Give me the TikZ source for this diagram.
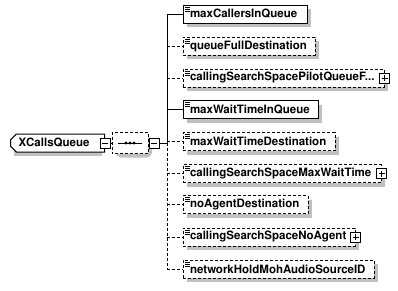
\documentclass[tikz,border=0pt]{standalone}
\usepackage[T1]{fontenc}
\usepackage{helvet}
\usetikzlibrary{shapes.misc}

\definecolor{shadowgray}{RGB}{192,192,192}

\begin{document}
\begin{tikzpicture}[
    x=1pt, y=-1pt,
    line width=1pt,
    font=\fontsize{11.5}{13}\selectfont\sffamily\bfseries,
    opt/.style={dash pattern=on 3pt off 2pt},
    elem/.style={
      rectangle,
      draw=black,
      fill=white,
      anchor=west,
      align=left,
      inner xsep=7pt,
      inner ysep=0pt,
      minimum height=18pt,
      text width=#1
    },
    root/.style={
      chamfered rectangle,
      chamfered rectangle corners={north west,south west},
      chamfered rectangle xsep=3pt,
      draw=black,
      fill=white,
      anchor=west,
      align=left,
      inner xsep=5pt,
      inner ysep=0pt,
      minimum height=18pt,
      text width=78pt
    },
    compositor/.style={
      chamfered rectangle,
      chamfered rectangle xsep=5pt,
      draw=black,
      fill=white,
      opt,
      inner sep=0pt,
      minimum width=36pt,
      minimum height=21pt
    },
    button/.style={
      rectangle,
      draw=black,
      fill=white,
      minimum size=10pt,
      inner sep=0pt
    },
    minus/.style={
      button,
      path picture={
        \draw ([xshift=2pt]path picture bounding box.west) -- ([xshift=-2pt]path picture bounding box.east);
      }
    },
    plus/.style={
      button,
      path picture={
        \draw ([xshift=2pt]path picture bounding box.west) -- ([xshift=-2pt]path picture bounding box.east);
        \draw ([yshift=-2pt]path picture bounding box.north) -- ([yshift=2pt]path picture bounding box.south);
      }
    }
]

\useasboundingbox (0,0) rectangle (398,290);

% drop shadows, laid down first so the boxes cover them
\fill[shadowgray] (14,138) rectangle (102,156);
\fill[shadowgray, rounded corners=5pt] (116,136.5) rectangle (152,157.5);
\foreach \y/\w in {14/124,46/132,78/201,109.5/135,141.5/152,173.5/198,204.5/125,237/172,269/191}
  \fill[shadowgray] (186.5,\y-5) rectangle ++(\w,18);

% root element and its sequence
\node[root] (xcq) at (10,143) {XCallsQueue};
\node[minus] (xcqm) at (xcq.east) {};

\node[compositor] (seq) at (130,143) {};
\node[minus, anchor=west] (seqm) at (seq.east) {};
\draw (seq.center) ++(-12,0) -- ++(24,0);
\foreach \dx in {-4,0,4}
  \fill ([xshift=\dx pt]seq.center) circle (1.6pt);

\coordinate (jn) at (167,143);

% child elements
\node[elem=110pt] (mciq) at (182.5,14) {maxCallersInQueue};
\node[elem=118pt, opt] (qfd) at (182.5,46) {queueFullDestination};
\node[elem=187pt, opt] (cssp) at (182.5,78) {callingSearchSpacePilotQueueF...};
\node[elem=121pt] (mwtq) at (182.5,109.5) {maxWaitTimeInQueue};
\node[elem=138pt, opt] (mwtd) at (182.5,141.5) {maxWaitTimeDestination};
\node[elem=184pt, opt] (cssm) at (182.5,173.5) {callingSearchSpaceMaxWaitTime};
\node[elem=111pt, opt] (nad) at (182.5,204.5) {noAgentDestination};
\node[elem=158pt, opt] (cssn) at (182.5,237) {callingSearchSpaceNoAgent};
\node[elem=177pt, opt] (nhma) at (182.5,269) {networkHoldMohAudioSourceID};

\node[plus] (csspp) at (cssp.east) {};
\node[plus] (cssmp) at (cssm.east) {};
\node[plus] (cssnp) at (cssn.east) {};

% element marks
\foreach \n in {mciq,qfd,cssp,mwtq,mwtd,cssm,nad,cssn,nhma}
  \foreach \k in {2.5,4.5,6.5}
    \draw[line width=0.7pt] ([shift={(2pt,-\k pt)}]\n.north west) -- ++(5,0);

% connectors
\draw[opt] (xcqm.east) -- (seq.west);
\draw (seqm.east) -- (jn);
\draw (jn) -- (jn |- mciq.west);
\draw[opt] (jn) -- (jn |- nhma.west);

\draw (jn |- mciq.west) -- (mciq.west);
\draw (jn |- mwtq.west) -- (mwtq.west);
\foreach \n in {qfd,cssp,mwtd,cssm,nad,cssn,nhma}
  \draw[opt] (jn |- \n.west) -- (\n.west);

\end{tikzpicture}
\end{document}
